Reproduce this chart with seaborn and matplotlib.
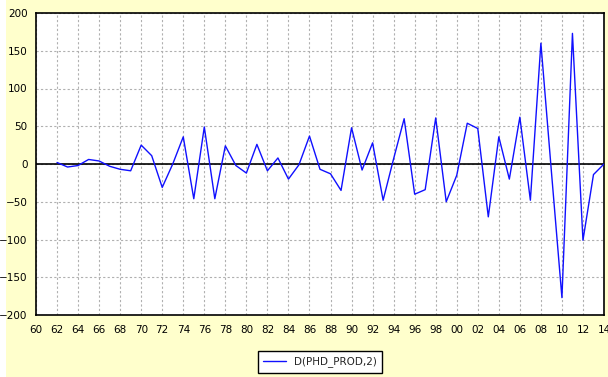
import numpy as np
import pandas as pd
import matplotlib
matplotlib.use("Agg")
import matplotlib.pyplot as plt
from matplotlib.patches import Rectangle
from matplotlib.ticker import MultipleLocator, FuncFormatter
import seaborn as sns

# Data: second difference of PHD_PROD, 1962-2014
years = list(range(1962, 2015))
d_phd_prod_2 = [
    2, -4, -2, 6, 4, -3, -7, -9, 25, 11,
    -31, 0, 36, -46, 49, -46, 24, -2, -12, 26,
    -9, 8, -20, -1, 37, -7, -13, -35, 48, -8,
    28, -48, 7, 60, -40, -34, 61, -50, -15, 54,
    47, -70, 36, -20, 62, -48, 160, -10, -177, 173,
    -101, -14, 0,
]
series_name = "D(PHD_PROD,2)"

df = pd.DataFrame({"year": years, "value": d_phd_prod_2})

sns.set_style("white")
plt.rcParams["font.family"] = ["DejaVu Sans"]

BG = "#ffffcc"
fig = plt.figure(figsize=(6.08, 3.77), dpi=100, facecolor="white")
fig.patches.append(Rectangle((6 / 608, 0), 1, 1, transform=fig.transFigure,
                             facecolor=BG, edgecolor="none", zorder=-1))

ax = fig.add_axes([36 / 608, 1 - 315 / 377, (604 - 36) / 608, (315 - 13) / 377])
ax.set_facecolor("white")

sns.lineplot(data=df, x="year", y="value", color="#1010ff", linewidth=1.0,
             label=series_name, ax=ax, zorder=3)
ax.axhline(0, color="black", linewidth=1.2, zorder=2)

ax.set_xlim(1960, 2014)
ax.set_ylim(-200, 200)
ax.xaxis.set_major_locator(MultipleLocator(2))
ax.xaxis.set_minor_locator(MultipleLocator(1))
ax.xaxis.set_major_formatter(FuncFormatter(lambda v, p: f"{int(round(v)) % 100:02d}"))
ax.yaxis.set_major_locator(MultipleLocator(50))

ax.grid(True, which="major", color="#b0b0b0", linestyle=(0, (2, 2)), linewidth=0.8)
ax.set_axisbelow(True)
for s in ax.spines.values():
    s.set_color("black")
    s.set_linewidth(1.2)
    s.set_visible(True)

ax.tick_params(axis="both", which="both", direction="out", length=5, width=1,
               color="black", labelsize=7.5, labelcolor="black", pad=2)
ax.tick_params(axis="y", length=4)
ax.set_xlabel("")
ax.set_ylabel("")

leg = ax.legend(loc="center", bbox_to_anchor=(320 / 608, 1 - 362 / 377),
                bbox_transform=fig.transFigure, frameon=True, fancybox=False,
                fontsize=7.5, handlelength=2.2, borderpad=0.5)
leg.get_frame().set_edgecolor("black")
leg.get_frame().set_linewidth(1.0)
leg.get_frame().set_facecolor("white")
leg.get_frame().set_alpha(1)

fig.savefig("out.png", dpi=100, facecolor=fig.get_facecolor())
